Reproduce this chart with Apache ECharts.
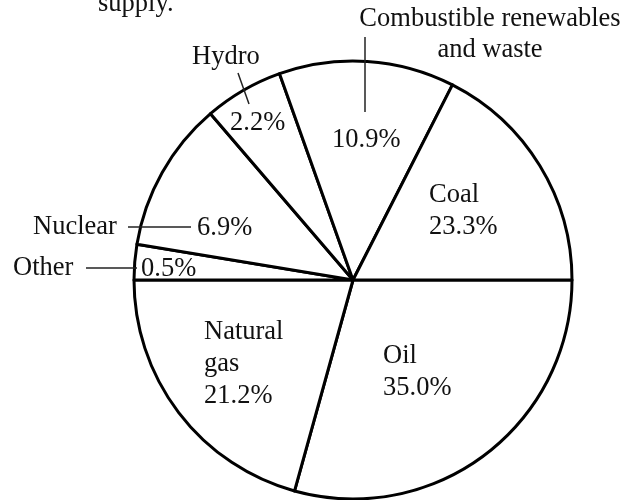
<!DOCTYPE html>
<html>
<head>
<meta charset="utf-8">
<script src="https://cdn.jsdelivr.net/npm/echarts@6/dist/echarts.min.js"></script>
<style>
  html, body { margin: 0; padding: 0; background: #fff; }
  #chart { width: 635px; height: 500px; }
</style>
</head>
<body>
<div id="chart"></div>
<script>
// energy supply shares, as printed on the figure
const categories = ['Oil', 'Natural gas', 'Other', 'Nuclear', 'Hydro', 'Combustible renewables and waste', 'Coal']
const sharePct = [35.0, 21.2, 0.5, 6.9, 2.2, 10.9, 23.3]
// slice sizes as actually drawn in the source figure (degrees, not to scale with the printed shares)
const drawnDeg = [105.5, 74.5, 9.4, 40, 21, 46.6, 63]
// slices whose name is written outside the pie with a leader line
const outsideNamed = ['Other', 'Nuclear', 'Hydro', 'Combustible renewables and waste']

// label placement (left/top of text block), kept apart from the data
const innerPos = [[383, 340], [204, 316], [141, 253], [197, 212], [230, 107], [332, 124], [429, 179]]
const outerPos = {
  'Other': [13, 253, 'left'],
  'Nuclear': [33, 212, 'left'],
  'Hydro': [192, 42, 'left'],
  'Combustible renewables and waste': [490, 4, 'center']
}

const FONT = 'Liberation Serif, Times New Roman, serif'
const FONT_SIZE = 26.5
const chart = echarts.init(document.getElementById('chart'))

const data = categories.map((name, i) => ({ name, value: drawnDeg[i] }))

function leader(points) {
  return {
    type: 'polyline',
    silent: true,
    z: 100,
    shape: { points },
    style: { stroke: '#222', lineWidth: 1.5, fill: null }
  }
}

chart.setOption({
  backgroundColor: '#fff',
  animation: false,
  graphic: [
    {
      type: 'text',
      silent: true,
      z: 100,
      style: { text: 'supply.', x: 98, y: 4, font: FONT_SIZE + 'px ' + FONT, fill: '#111', textVerticalAlign: 'middle' }
    },
    leader([[365, 37], [365, 112]]),
    leader([[238, 73], [249, 104]]),
    leader([[128, 227], [191, 227]]),
    leader([[86, 268], [137, 268]])
  ],
  series: [
    {
      type: 'pie',
      center: [353, 280],
      radius: 219,
      startAngle: 0,
      clockwise: true,
      avoidLabelOverlap: false,
      silent: true,
      emphasis: { disabled: true },
      itemStyle: { color: '#fff', borderColor: '#000', borderWidth: 3 },
      label: {
        position: 'inside',
        fontFamily: FONT,
        fontSize: FONT_SIZE,
        lineHeight: 32,
        color: '#111',
        formatter: p => {
          const pct = sharePct[p.dataIndex].toFixed(1) + '%'
          if (outsideNamed.includes(p.name)) return pct
          return p.name.replace(' ', '\n') + '\n' + pct
        }
      },
      labelLine: { show: false },
      labelLayout: p => ({
        x: innerPos[p.dataIndex][0],
        y: innerPos[p.dataIndex][1],
        align: 'left',
        verticalAlign: 'top'
      }),
      data
    },
    {
      type: 'pie',
      center: [353, 280],
      radius: 219,
      startAngle: 0,
      clockwise: true,
      avoidLabelOverlap: false,
      silent: true,
      emphasis: { disabled: true },
      itemStyle: { color: 'transparent', borderWidth: 0 },
      label: {
        position: 'inside',
        fontFamily: FONT,
        fontSize: FONT_SIZE,
        lineHeight: 31,
        color: '#111',
        formatter: p => outsideNamed.includes(p.name) ? p.name.replace(' and', '\nand') : ''
      },
      labelLine: { show: false },
      labelLayout: p => {
        const pos = outerPos[categories[p.dataIndex]]
        if (!pos) return {}
        return { x: pos[0], y: pos[1], align: pos[2], verticalAlign: 'top' }
      },
      data
    }
  ]
})
</script>
</body>
</html>
